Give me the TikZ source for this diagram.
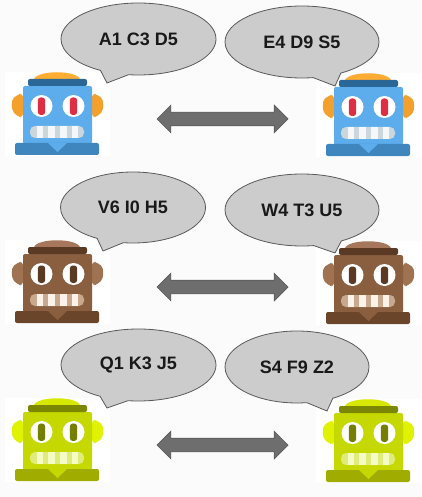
\documentclass[tikz,border=0pt]{standalone}
\usepackage{fontspec}
\setmainfont{Liberation Sans}
\usepackage{tikz}
\usetikzlibrary{shapes.callouts,shapes.arrows}
\definecolor{PageColor}{HTML}{FBFBFB}
\definecolor{BubbleColor}{HTML}{CCCCCC}
\definecolor{BubbleEdge}{HTML}{595959}
\definecolor{ArrowColor}{HTML}{6E6E6E}
\tikzset{
  botcolors/.code args={#1,#2,#3,#4,#5,#6,#7,#8}{%
    \definecolor{BotHead}{HTML}{#1}\definecolor{BotBand}{HTML}{#2}%
    \definecolor{BotCollar}{HTML}{#3}\definecolor{BotEar}{HTML}{#4}%
    \definecolor{BotDome}{HTML}{#5}\definecolor{BotPupil}{HTML}{#6}%
    \definecolor{BotTooth}{HTML}{#7}\definecolor{BotGap}{HTML}{#8}},
  bluebot/.style={botcolors={5DADEC,2A6797,3F86BF,F4A02C,FFAC33,DD2E44,F5F8FA,CCD6DD}},
  brownbot/.style={botcolors={8A5F3F,5A3A22,6B4529,9F7252,A6775A,5A3A22,FBF3EA,C9A98E}},
  greenbot/.style={botcolors={C5D800,7C8700,A0AD00,DFF200,D6E700,747F00,F4FBC4,E0EC7A}},
  robot/.pic={
    \fill[white] (0,0) rectangle (105,84);
    \fill[BotDome] (29,7) .. controls (33,-2) and (71,-2) .. (75,7) -- cycle;
    \fill[BotEar,rounded corners=4pt] (18,21) -- (12,23) .. controls (6,28) and (6,38) .. (12,44) -- (18,46) -- cycle;
    \fill[BotEar,rounded corners=4pt] (87,21) -- (93,23) .. controls (99,28) and (99,38) .. (93,44) -- (87,46) -- cycle;
    \fill[BotHead,rounded corners=2pt] (18,14) rectangle (87,72);
    \fill[BotBand,rounded corners=2pt] (23,14) -- (23,7) -- (82,7) -- (82,14) -- cycle;
    \fill[BotCollar,rounded corners=2pt] (10,71) rectangle (94,83);
    \fill[BotHead] (43,71) -- (62,71) -- (52.5,80) -- cycle;
    \foreach \eyex in {36.5,68.5}{
      \fill[white] (\eyex,34) circle [radius=11];
      \fill[BotPupil,rounded corners=3pt] (\eyex-3.7,25.5) rectangle (\eyex+3.7,43);
    }
    \fill[BotGap,rounded corners=5pt] (25,54) rectangle (79,66);
    \foreach \toothx in {31.7,43.3,55,66.7}{
      \fill[BotTooth] (\toothx,54) rectangle (\toothx+6.6,66);
    }
  },
  speech/.style={ellipse callout,draw=BubbleEdge,fill=BubbleColor,line width=0.8pt,
    inner sep=0pt,callout pointer arc=22,font=\fontsize{18}{20}\selectfont\bfseries,text=black!90},
  swaparrow/.style={double arrow,draw=BubbleEdge,fill=ArrowColor,line width=0.7pt,inner xsep=0pt,inner ysep=6.5pt,
    minimum height=131,double arrow head extend=7,double arrow tip angle=90},
}
\begin{document}
\begin{tikzpicture}[x=1pt,y=-1pt]
\coordinate (TopLeft) at (0,0);
\coordinate (BottomRight) at (421,497);
\useasboundingbox (TopLeft) rectangle (BottomRight);
\fill[PageColor] (TopLeft) rectangle (BottomRight);

%%Robots
\pic[bluebot] at (5,72) {robot};
\pic[bluebot] at (316,73) {robot};
\pic[brownbot] at (5,240) {robot};
\pic[brownbot] at (316,241) {robot};
\pic[greenbot] at (5,398) {robot};
\pic[greenbot] at (316,399) {robot};

%%Speech
\node[speech,minimum width=155,minimum height=72,callout absolute pointer={(107,83)}] (sayA) at (138.5,39) {A1 C3 D5};
\node[speech,minimum width=154,minimum height=72,callout absolute pointer={(335,86)}] (sayB) at (302,42) {E4 D9 S5};
\node[speech,minimum width=145,minimum height=71,callout absolute pointer={(103,251)}] (sayC) at (133,207.5) {V6 I0 H5};
\node[speech,minimum width=154,minimum height=72,callout absolute pointer={(335,253)}] (sayD) at (302,210) {W4 T3 U5};
\node[speech,minimum width=155,minimum height=72,callout absolute pointer={(107,408)}] (sayE) at (138.5,365) {Q1 K3 J5};
\node[speech,minimum width=144,minimum height=72,callout absolute pointer={(327,411)}] (sayF) at (297,367) {S4 F9 Z2};

%%Arrows
\node[swaparrow] (swapA) at (222.5,119) {};
\node[swaparrow] (swapB) at (222.5,287) {};
\node[swaparrow] (swapC) at (222.5,445) {};
\end{tikzpicture}
\end{document}
